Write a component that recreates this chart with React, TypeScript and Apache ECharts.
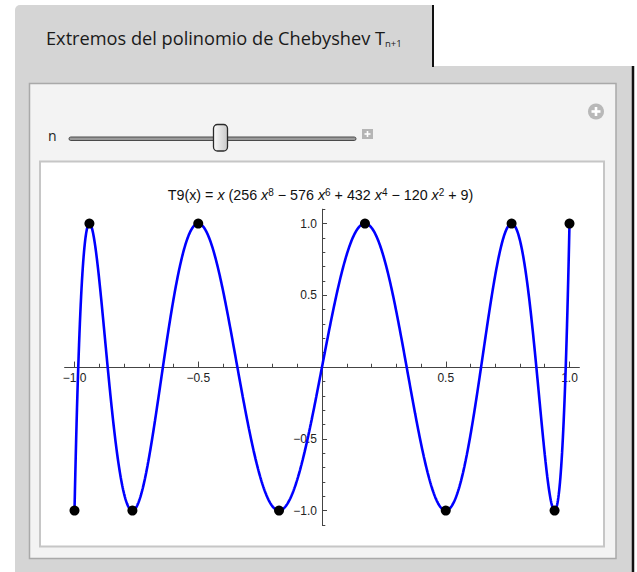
import React, { useEffect, useRef } from "react";
import * as echarts from "echarts";

// T9(x) = x (256 x^8 − 576 x^6 + 432 x^4 − 120 x^2 + 9), coefficients in ascending powers
const coefficients = [0, 9, 0, -120, 0, 432, 0, -576, 0, 256];
const curveSamples = 1200;

// extrema of T9 on [-1, 1]
const extremaX = [-1, -0.9397, -0.766, -0.5, -0.1736, 0.1736, 0.5, 0.766, 0.9397, 1];
const extremaY = [-1, 1, -1, 1, -1, 1, -1, 1, -1, 1];

// axis ranges and tick positions
const xRange = [-1.04, 1.04];
const yRange = [-1.1, 1.1];
const xMajorTicks = [-1, -0.5, 0.5, 1];
const xMinorTicks = [-0.9, -0.8, -0.7, -0.6, -0.4, -0.3, -0.2, -0.1, 0.1, 0.2, 0.3, 0.4, 0.6, 0.7, 0.8, 0.9];
const yMajorTicks = [-1, -0.5, 0.5, 1];
const yMinorTicks = [-1.1, -0.9, -0.8, -0.7, -0.6, -0.4, -0.3, -0.2, -0.1, 0.1, 0.2, 0.3, 0.4, 0.6, 0.7, 0.8, 0.9, 1.1];

const tabTitle = "Extremos del polinomio de Chebyshev T";
const tabTitleSub = "n+1";
const sliderLabel = "n";

const evalPoly = (x: number) => coefficients.reduceRight((acc, c) => acc * x + c, 0);

const fmt = (v: number) => v.toFixed(1).replace("-", "\u2212");

// plot area in page pixels
const plotLeft = 64.6;
const plotTop = 209.2;
const plotWidth = 514.8;
const plotHeight = 315.7;

export default function App() {
  const ref = useRef<HTMLDivElement>(null);

  useEffect(() => {
    if (!ref.current) return;
    const chart = echarts.init(ref.current, null, { renderer: "svg" });

    const curve: number[][] = [];
    for (let i = 0; i <= curveSamples; i++) {
      const x = -1 + (2 * i) / curveSamples;
      curve.push([x, evalPoly(x)]);
    }
    const points = extremaX.map((x, i) => [x, extremaY[i]]);

    // where the axes cross (x = 0, y = 0) inside the plot area
    const zeroX = plotLeft + (plotWidth * (0 - xRange[0])) / (xRange[1] - xRange[0]);
    const zeroY = plotTop + (plotHeight * (yRange[1] - 0)) / (yRange[1] - yRange[0]);

    const axisColor = "#444";
    const labelStyle = {
      fontFamily: "Liberation Sans",
      fontSize: 12,
      color: "#222",
    };
    const hiddenAxis = { show: false, splitLine: { show: false } };

    const frameGrey = "#d5d5d5";

    const titleRich = {
      n: { fontFamily: "Liberation Sans", fontSize: 14.3, lineHeight: 16, fill: "#111" },
      i: { fontFamily: "Liberation Sans", fontSize: 14.3, lineHeight: 16, fontStyle: "italic", fill: "#111" },
      s: { fontFamily: "Liberation Sans", fontSize: 10, lineHeight: 9, verticalAlign: "top", fill: "#111" },
    };
    const titleText =
      "{n|T9(x) = }{i|x}{n| (256 }{i|x}{s|8}{n| \u2212 576 }{i|x}{s|6}{n| + 432 }{i|x}{s|4}{n| \u2212 120 }{i|x}{s|2}{n| + 9)}";

    chart.setOption({
      animation: false,
      backgroundColor: "#ffffff",
      grid: [
        // data
        { left: plotLeft, top: plotTop, width: plotWidth, height: plotHeight, containLabel: false },
        // horizontal axis, its bottom edge on y = 0
        { left: plotLeft, top: plotTop, width: plotWidth, height: zeroY - plotTop, containLabel: false },
        // vertical axis, its left edge on x = 0
        { left: zeroX, top: plotTop, width: plotLeft + plotWidth - zeroX, height: plotHeight, containLabel: false },
      ],
      xAxis: [
        { type: "value", gridIndex: 0, min: xRange[0], max: xRange[1], ...hiddenAxis },
        {
          type: "value",
          gridIndex: 1,
          min: xRange[0],
          max: xRange[1],
          position: "bottom",
          axisLine: { show: true, onZero: false, lineStyle: { color: axisColor, width: 1 } },
          axisTick: { show: true, inside: true, length: 5.5, customValues: xMajorTicks, lineStyle: { color: axisColor } },
          axisLabel: { show: true, customValues: xMajorTicks, formatter: fmt, margin: 5, ...labelStyle },
          splitLine: { show: false },
        },
        {
          type: "value",
          gridIndex: 1,
          min: xRange[0],
          max: xRange[1],
          position: "bottom",
          axisLine: { show: false, onZero: false },
          axisTick: { show: true, inside: true, length: 3.3, customValues: xMinorTicks, lineStyle: { color: axisColor } },
          axisLabel: { show: false },
          splitLine: { show: false },
        },
        { type: "value", gridIndex: 2, min: 0, max: xRange[1], ...hiddenAxis },
      ],
      yAxis: [
        { type: "value", gridIndex: 0, min: yRange[0], max: yRange[1], ...hiddenAxis },
        { type: "value", gridIndex: 1, min: 0, max: yRange[1], ...hiddenAxis },
        {
          type: "value",
          gridIndex: 2,
          min: yRange[0],
          max: yRange[1],
          position: "left",
          axisLine: { show: true, onZero: false, lineStyle: { color: axisColor, width: 1 } },
          axisTick: { show: true, inside: true, length: 5, customValues: yMajorTicks, lineStyle: { color: axisColor } },
          axisLabel: { show: true, customValues: yMajorTicks, formatter: fmt, margin: 5, ...labelStyle },
          splitLine: { show: false },
        },
        {
          type: "value",
          gridIndex: 2,
          min: yRange[0],
          max: yRange[1],
          position: "left",
          axisLine: { show: false, onZero: false },
          axisTick: { show: true, inside: true, length: 3.3, customValues: yMinorTicks, lineStyle: { color: axisColor } },
          axisLabel: { show: false },
          splitLine: { show: false },
        },
      ],
      graphic: {
        elements: [
          // tab and panel frame
          { type: "rect", z: -5, shape: { x: 15, y: 5, width: 418, height: 70, r: [5, 0, 0, 0] }, style: { fill: frameGrey } },
          { type: "rect", z: -5, shape: { x: 15, y: 66, width: 617, height: 510 }, style: { fill: frameGrey } },
          { type: "line", z: -4, shape: { x1: 433, y1: 5, x2: 433, y2: 67 }, style: { stroke: "#111", lineWidth: 2 } },
          { type: "line", z: -4, shape: { x1: 633, y1: 66, x2: 633, y2: 572 }, style: { stroke: "#111", lineWidth: 2.5 } },
          // inner control panel
          { type: "rect", z: -3, shape: { x: 29.5, y: 83.5, width: 586.5, height: 475 }, style: { fill: "#f3f3f3", stroke: "#a9a9a9", lineWidth: 1.5 } },
          // plot box
          { type: "rect", z: -2, shape: { x: 40, y: 161.5, width: 564, height: 385 }, style: { fill: "#ffffff", stroke: "#c6c6c6", lineWidth: 2 } },
          // slider
          { type: "rect", z: -2, shape: { x: 69, y: 137, width: 287, height: 3.5, r: 1.75 }, style: { fill: "#9a9a9a", stroke: "#4a4a4a", lineWidth: 1 } },
          {
            type: "rect",
            z: -1,
            shape: { x: 213.5, y: 124.5, width: 14, height: 26.5, r: 4 },
            style: {
              fill: new echarts.graphic.LinearGradient(0, 0, 1, 0, [
                { offset: 0, color: "#fbfbfb" },
                { offset: 1, color: "#c9c9c9" },
              ]),
              stroke: "#2a2a2a",
              lineWidth: 1.3,
            },
          },
          // small plus button beside the slider
          { type: "rect", z: -1, shape: { x: 362, y: 129, width: 11, height: 10 }, style: { fill: "#b5b5b5" } },
          { type: "line", z: -1, shape: { x1: 364.5, y1: 134, x2: 370.5, y2: 134 }, style: { stroke: "#fff", lineWidth: 1.6 } },
          { type: "line", z: -1, shape: { x1: 367.5, y1: 131, x2: 367.5, y2: 137 }, style: { stroke: "#fff", lineWidth: 1.6 } },
          // round plus button
          { type: "circle", z: -1, shape: { cx: 596, cy: 111.5, r: 8 }, style: { fill: "#b8b8b8" } },
          { type: "line", z: -1, shape: { x1: 591.5, y1: 111.5, x2: 600.5, y2: 111.5 }, style: { stroke: "#fff", lineWidth: 2.6 } },
          { type: "line", z: -1, shape: { x1: 596, y1: 107, x2: 596, y2: 116 }, style: { stroke: "#fff", lineWidth: 2.6 } },
          // texts
          {
            type: "text",
            x: 46,
            y: 38,
            style: {
              text: `{t|${tabTitle}}{s|${tabTitleSub}}`,
              verticalAlign: "middle",
              rich: {
                t: { fontFamily: "Open Sans", fontSize: 18.2, lineHeight: 20, fill: "#1a1a1a" },
                s: { fontFamily: "Open Sans", fontSize: 9.5, lineHeight: 10, verticalAlign: "bottom", fill: "#1a1a1a" },
              },
            },
          },
          {
            type: "text",
            x: 48,
            y: 135,
            style: { text: sliderLabel, fontFamily: "Open Sans", fontSize: 14, fill: "#222", verticalAlign: "middle" },
          },
          {
            type: "text",
            x: 320.5,
            y: 195,
            style: { text: titleText, align: "center", verticalAlign: "middle", rich: titleRich },
          },
        ],
      },
      series: [
        {
          type: "line",
          xAxisIndex: 0,
          yAxisIndex: 0,
          data: curve,
          symbol: "none",
          showSymbol: false,
          silent: true,
          z: 3,
          lineStyle: { color: "#0000ff", width: 2.6 },
        },
        {
          type: "scatter",
          xAxisIndex: 0,
          yAxisIndex: 0,
          data: points,
          symbol: "circle",
          symbolSize: 10,
          silent: true,
          z: 4,
          itemStyle: { color: "#000000", opacity: 1 },
        },
      ],
    });

    return () => chart.dispose();
  }, []);

  return (
    <div
      ref={ref}
      style={{ position: "absolute", left: 0, top: 0, width: 637, height: 572 }}
    />
  );
}
